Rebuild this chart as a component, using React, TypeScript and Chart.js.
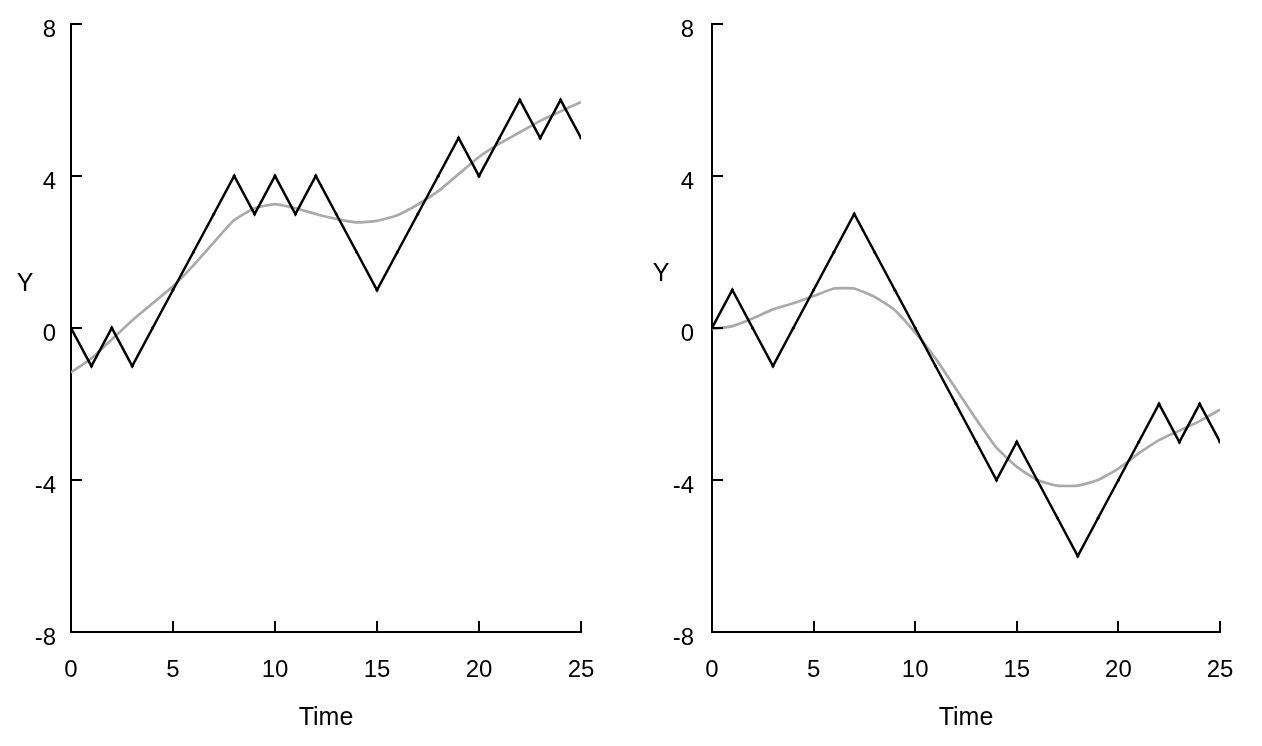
import React, { useEffect, useRef } from "react";
import { Chart, registerables } from "chart.js";

Chart.register(...registerables);

const timeLabels = Array.from({ length: 26 }, (_, i) => i);

const leftWalk = [0, -1, 0, -1, 0, 1, 2, 3, 4, 3, 4, 3, 4, 3, 2, 1, 2, 3, 4, 5, 4, 5, 6, 5, 6, 5];
const leftSmooth = [-1.17, -0.8, -0.3, 0.2, 0.65, 1.1, 1.65, 2.25, 2.84, 3.15, 3.26, 3.15, 3.0, 2.87, 2.78, 2.82, 2.97, 3.25, 3.6, 4.05, 4.5, 4.85, 5.15, 5.45, 5.7, 5.95];

const rightWalk = [0, 1, 0, -1, 0, 1, 2, 3, 2, 1, 0, -1, -2, -3, -4, -3, -4, -5, -6, -5, -4, -3, -2, -3, -2, -3];
const rightSmooth = [-0.03, 0.05, 0.25, 0.49, 0.65, 0.84, 1.04, 1.04, 0.82, 0.47, -0.12, -0.8, -1.6, -2.4, -3.15, -3.65, -4.0, -4.15, -4.15, -4.0, -3.7, -3.3, -2.95, -2.7, -2.45, -2.15];

const yTicks = [-8, -4, 0, 4, 8];
const xTicks = [0, 5, 10, 15, 20, 25];

const FONT = "'Liberation Sans', Arial, Helvetica, sans-serif";

type PanelProps = {
  walk: number[];
  smooth: number[];
  left: number;
  yWidth: number;
  rightPad: number;
  yLabelPad: number;
  yTitleDx: number;
  yTitleAt: number;
};

const axesPlugin = {
  id: "inwardTicks",
  afterDraw(chart: any, _args: any, opts: any) {
    const ctx = chart.ctx;
    const xs = chart.scales.x;
    const ys = chart.scales.y;
    const area = chart.chartArea;
    ctx.save();
    ctx.strokeStyle = "#000";
    ctx.lineWidth = 2;
    ctx.beginPath();
    for (const v of yTicks) {
      const y = Math.round(ys.getPixelForValue(v));
      ctx.moveTo(area.left, y);
      ctx.lineTo(area.left + 11, y);
    }
    for (const v of xTicks) {
      const x = Math.round(xs.getPixelForValue(v));
      ctx.moveTo(x, area.bottom);
      ctx.lineTo(x, area.bottom - 11);
    }
    ctx.stroke();
    // axis titles
    ctx.fillStyle = "#000";
    ctx.font = `25px ${FONT}`;
    ctx.textAlign = "center";
    ctx.textBaseline = "middle";
    ctx.fillText("Time", (area.left + area.right) / 2, area.bottom + 86);
    ctx.fillText("Y", area.left + opts.yTitleDx, ys.getPixelForValue(opts.yTitleAt));
    ctx.restore();
  },
};

function Panel({ walk, smooth, left, yWidth, rightPad, yLabelPad, yTitleDx, yTitleAt }: PanelProps) {
  const ref = useRef<HTMLCanvasElement>(null);
  useEffect(() => {
    if (!ref.current) return;
    const chart = new Chart(ref.current, {
      type: "line",
      data: {
        datasets: [
          {
            data: walk.map((v, i) => ({ x: timeLabels[i], y: v })),
            borderColor: "#000",
            backgroundColor: "#000",
            borderWidth: 2.5,
            pointRadius: 1.6,
            pointBorderWidth: 0,
            pointBackgroundColor: "#000",
            tension: 0,
            order: 1,
          },
          {
            data: smooth.map((v, i) => ({ x: timeLabels[i], y: v })),
            borderColor: "#aaaaaa",
            borderWidth: 2.7,
            pointRadius: 0,
            tension: 0.15,
            order: 2,
          },
        ],
      },
      options: {
        animation: false,
        responsive: false,
        maintainAspectRatio: false,
        events: [],
        layout: { padding: { top: 24, right: rightPad, left: 0, bottom: 0 } },
        plugins: {
          legend: { display: false },
          tooltip: { enabled: false },
          inwardTicks: { yTitleDx, yTitleAt },
        },
        scales: {
          x: {
            type: "linear",
            min: 0,
            max: 25,
            afterBuildTicks: (s: any) => {
              s.ticks = xTicks.map((v) => ({ value: v }));
            },
            afterFit: (s: any) => {
              s.height = 114;
              s.paddingLeft = 0;
              s.paddingRight = 0;
            },
            grid: { display: false, drawTicks: false },
            border: { display: true, color: "#000", width: 2 },
            ticks: {
              color: "#000",
              font: { family: FONT, size: 24 },
              padding: 24,
              maxRotation: 0,
            },
          },
          y: {
            type: "linear",
            min: -8,
            max: 8,
            afterBuildTicks: (s: any) => {
              s.ticks = yTicks.map((v) => ({ value: v }));
            },
            afterFit: (s: any) => {
              s.width = yWidth;
              s.paddingTop = 0;
              s.paddingBottom = 0;
            },
            grid: { display: false, drawTicks: false },
            border: { display: true, color: "#000", width: 2 },
            ticks: {
              color: "#000",
              font: { family: FONT, size: 24 },
              padding: yLabelPad,
              labelOffset: 6,
            },
          },
        },
      },
      plugins: [axesPlugin],
    } as any);
    return () => chart.destroy();
  }, []);
  return (
    <canvas
      ref={ref}
      width={631}
      height={746}
      style={{ position: "absolute", left, top: 0, width: 631, height: 746 }}
    />
  );
}

export default function App() {
  useEffect(() => {
    document.body.style.margin = "0";
  }, []);
  return (
    <div style={{ position: "relative", width: 1262, height: 746, background: "#fff", overflow: "hidden" }}>
      <Panel walk={leftWalk} smooth={leftSmooth} left={0} yWidth={71} rightPad={50} yLabelPad={15} yTitleDx={-46} yTitleAt={1.16} />
      <Panel walk={rightWalk} smooth={rightSmooth} left={631} yWidth={81} rightPad={42} yLabelPad={18} yTitleDx={-51} yTitleAt={1.42} />
    </div>
  );
}
